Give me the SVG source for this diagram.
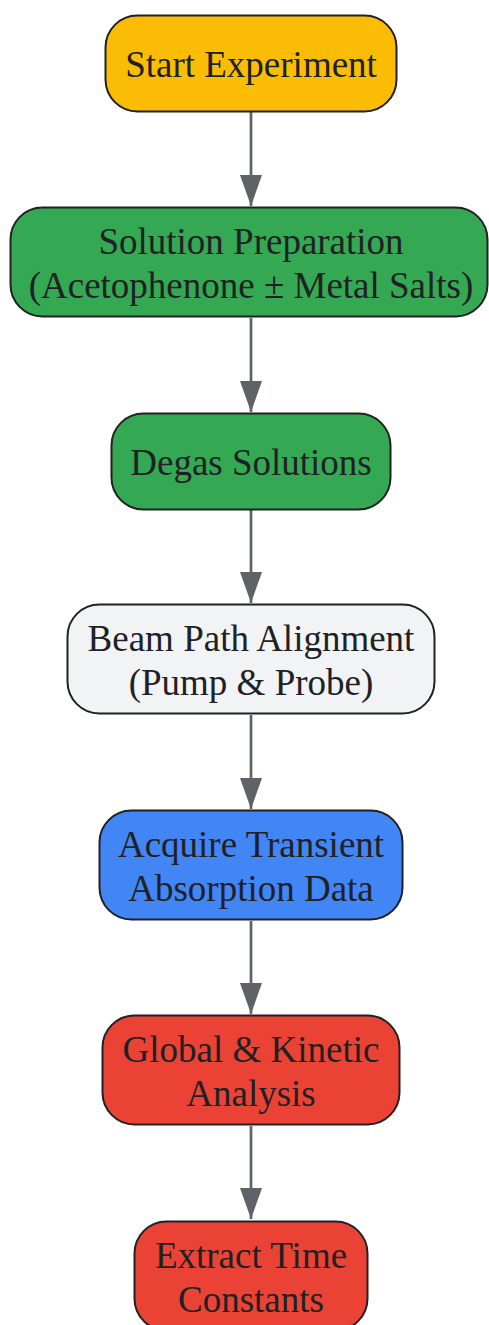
<svg xmlns="http://www.w3.org/2000/svg" width="489" height="1325" viewBox="0 0 489 1325">
  <style>
    .node rect { stroke: #202124; stroke-width: 2; }
    .node text { font-family: "Liberation Serif", "Times New Roman", serif; font-size: 37px; fill: #202124; text-anchor: middle; }
    .edge { stroke: #5F6368; stroke-width: 2.7; fill: none; }
  </style>
  <defs>
    <marker id="arrow" markerUnits="userSpaceOnUse" markerWidth="31" markerHeight="22" refX="31" refY="11" orient="auto" viewBox="0 0 31 22">
      <path d="M0,0 L31,11 L0,22 Z" fill="#5F6368"/>
    </marker>
  </defs>
  <rect width="489" height="1325" fill="#FFFFFF"/>
  <g id="connectors">
    <line class="edge" x1="251" y1="112" x2="251" y2="206" marker-end="url(#arrow)"/>
    <line class="edge" x1="251" y1="318" x2="251" y2="412" marker-end="url(#arrow)"/>
    <line class="edge" x1="251" y1="510" x2="251" y2="603" marker-end="url(#arrow)"/>
    <line class="edge" x1="251" y1="715" x2="251" y2="809" marker-end="url(#arrow)"/>
    <line class="edge" x1="251" y1="921" x2="251" y2="1014" marker-end="url(#arrow)"/>
    <line class="edge" x1="251" y1="1126" x2="251" y2="1219" marker-end="url(#arrow)"/>
  </g>
  <g id="start" class="node">
    <rect x="105.5" y="15.5" width="291" height="96" rx="32" fill="#FBBC05"/>
    <text x="251" y="77">Start Experiment</text>
  </g>
  <g id="prep" class="node">
    <rect x="10.5" y="207.5" width="477" height="109" rx="32" fill="#34A853"/>
    <text x="251" y="254">Solution Preparation</text>
    <text x="251" y="298">(Acetophenone ± Metal Salts)</text>
  </g>
  <g id="degas" class="node">
    <rect x="111.5" y="413.5" width="279" height="96" rx="32" fill="#34A853"/>
    <text x="251" y="475">Degas Solutions</text>
  </g>
  <g id="align" class="node">
    <rect x="67.5" y="604.5" width="367" height="109" rx="32" fill="#F1F3F4"/>
    <text x="251" y="651">Beam Path Alignment</text>
    <text x="251" y="695">(Pump &amp; Probe)</text>
  </g>
  <g id="acquire" class="node">
    <rect x="99.5" y="810.5" width="303" height="109" rx="32" fill="#4285F4"/>
    <text x="251" y="857">Acquire Transient</text>
    <text x="251" y="901">Absorption Data</text>
  </g>
  <g id="analysis" class="node">
    <rect x="102.5" y="1015.5" width="297" height="109" rx="32" fill="#EA4335"/>
    <text x="251" y="1062">Global &amp; Kinetic</text>
    <text x="251" y="1106">Analysis</text>
  </g>
  <g id="extract" class="node">
    <rect x="134.5" y="1221.5" width="233" height="109" rx="32" fill="#EA4335"/>
    <text x="251" y="1268">Extract Time</text>
    <text x="251" y="1312">Constants</text>
  </g>
</svg>
